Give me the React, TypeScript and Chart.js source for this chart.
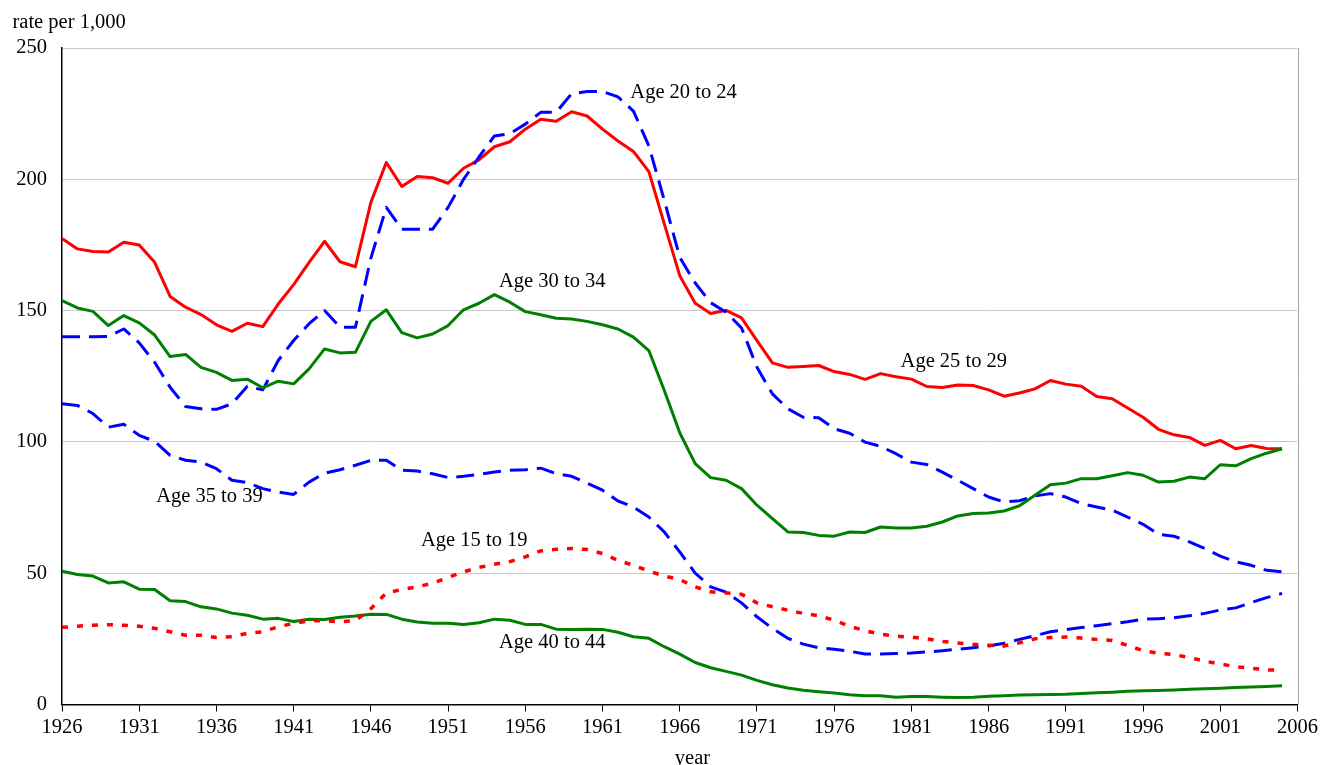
import React, { useEffect, useRef } from "react";
import { Chart, registerables } from "chart.js";

Chart.register(...registerables);

const FONT_FAMILY = '"Liberation Serif", "Times New Roman", serif';
const FONT_SIZE = 20.5;

const startYear = 1926;
const years: number[] = Array.from({ length: 80 }, (_, i) => startYear + i);

const age15to19 = [
  29.4, 29.8, 30.2, 30.4, 30.2, 29.8, 29, 27.7, 26.4, 26.4,
  25.5, 25.8, 27.1, 27.7, 29.6, 30.9, 31.9, 31.9, 31.5, 31.9,
  36.5, 42.5, 43.8, 44.8, 46.2, 48.4, 50.5, 52.2, 53.4, 54.4,
  56.2, 58.5, 59.1, 59.4, 59, 57.5, 54.9, 53, 50.8, 48.9,
  47.6, 44.8, 42.9, 42.5, 42, 38.7, 37.2, 35.9, 34.7, 33.8,
  32.1, 29.8, 28.1, 26.8, 26, 25.7, 25, 24, 23.4, 22.9,
  22.6, 22.3, 23.5, 25, 25.5, 25.7, 25.3, 24.8, 24.4, 22.5,
  20.5, 19.5, 19, 17.9, 16.5, 15.4, 14.4, 13.8, 13.2, 13,
];

const age20to24 = [
  140, 140, 140, 140.2, 143, 137.7, 130.3, 120.8, 113.5, 112.6,
  112.4, 114.5, 121.2, 119.8, 131, 138.6, 145, 150, 143.7, 143.7,
  170, 189.3, 181, 181, 181, 189.3, 200, 208.5, 216.5, 217.4,
  221, 225.5, 225.5, 232.6, 233.4, 233.4, 231.4, 226, 212.7, 192,
  170.3, 160.5, 153, 149.4, 143.4, 128.4, 118.3, 112.6, 109.4, 109.2,
  105, 103.3, 99.9, 98.3, 95.5, 92.3, 91.4, 88.5, 85.4, 82.2,
  79, 77.1, 77.6, 79.4, 80.3, 79, 76.5, 75.2, 74, 71.4,
  68.6, 64.8, 64.1, 61.9, 59.4, 56.5, 54.3, 53, 51.1, 50.5,
];

const age25to29 = [
  177.5, 173.5, 172.5, 172.3, 176, 175, 168.4, 155.4, 151.3, 148.5,
  144.6, 142.1, 145.2, 143.9, 152.5, 159.9, 168.4, 176.4, 168.6, 166.7,
  191.2, 206.4, 197.3, 201.1, 200.6, 198.5, 204.2, 207.4, 212.4, 214.3,
  219.1, 222.9, 222.1, 225.7, 224.1, 219.1, 214.6, 210.6, 202.9, 183,
  163.3, 152.8, 148.9, 150.1, 147.2, 138.6, 130.1, 128.4, 128.7, 129.1,
  126.8, 125.7, 123.8, 126, 124.8, 123.9, 121.1, 120.7, 121.7, 121.5,
  119.8, 117.4, 118.6, 120.2, 123.4, 122, 121.2, 117.3, 116.4, 112.9,
  109.4, 104.8, 102.7, 101.7, 98.7, 100.6, 97.4, 98.6, 97.5, 97.4,
];

const age30to34 = [
  153.8, 151, 149.7, 144.3, 148.1, 145.3, 140.7, 132.5, 133.3, 128.4,
  126.5, 123.4, 123.9, 120.6, 123.1, 122.1, 127.8, 135.4, 133.9, 134.1,
  145.9, 150.3, 141.6, 139.6, 141.1, 144.3, 150.3, 152.8, 156.1, 153.2,
  149.6, 148.4, 147.1, 146.8, 145.9, 144.6, 143, 139.9, 134.8, 119.6,
  103.5, 91.7, 86.4, 85.4, 82.2, 75.9, 70.8, 65.7, 65.5, 64.4,
  64.1, 65.7, 65.5, 67.6, 67.2, 67.2, 67.9, 69.5, 71.8, 72.7,
  72.9, 73.7, 75.7, 79.7, 83.7, 84.3, 86, 86, 87.1, 88.3,
  87.3, 84.7, 85, 86.6, 86, 91.3, 90.9, 93.6, 95.7, 97.4,
];

const age35to39 = [
  114.5, 113.9, 110.8, 105.6, 106.7, 102.5, 100.2, 94.9, 93, 92.3,
  89.8, 85.4, 84.5, 82.2, 80.9, 80, 84.7, 88.1, 89.4, 91.1,
  93, 93, 89.2, 88.9, 87.9, 86.4, 86.9, 87.6, 88.5, 89.2,
  89.4, 90, 87.9, 86.9, 84.3, 81.6, 77.5, 75.2, 71.4, 65.7,
  58.1, 50, 44.8, 42.8, 38.7, 33.4, 29, 25.2, 23, 21.6,
  21, 20.3, 19.2, 19.2, 19.4, 19.6, 20, 20.5, 21, 21.6,
  22.3, 23.3, 24.8, 26.2, 27.7, 28.5, 29.3, 30, 30.8, 31.5,
  32.5, 32.7, 33, 33.8, 34.7, 36, 36.8, 38.8, 40.7, 42.3,
];

const age40to44 = [
  50.8, 49.5, 48.9, 46.3, 46.7, 43.9, 43.8, 39.5, 39.2, 37.2,
  36.4, 34.8, 34, 32.5, 32.8, 31.6, 32.5, 32.4, 33.2, 33.7,
  34.4, 34.3, 32.5, 31.4, 30.9, 30.9, 30.5, 31.1, 32.5, 32.1,
  30.5, 30.5, 28.7, 28.6, 28.7, 28.6, 27.5, 25.8, 25.2, 22,
  19.2, 16, 14, 12.6, 11.2, 9.2, 7.5, 6.3, 5.4, 4.9,
  4.4, 3.7, 3.3, 3.3, 2.8, 3, 3, 2.8, 2.7, 2.8,
  3.1, 3.3, 3.6, 3.7, 3.8, 3.9, 4.2, 4.5, 4.7, 5,
  5.2, 5.3, 5.5, 5.8, 6, 6.2, 6.5, 6.7, 6.9, 7.1,
];

const xMin = 1926;
const xMax = 2006;
const xStep = 5;
const yMin = 0;
const yMax = 250;
const yStep = 50;

const yAxisTitle = "rate per 1,000";
const xAxisTitle = "year";

// Series label annotations (anchor in data units, text left-aligned)
const seriesLabels = [
  { text: "Age 20 to 24", year: 1962.8, value: 232.9 },
  { text: "Age 30 to 34", year: 1954.3, value: 161.1 },
  { text: "Age 25 to 29", year: 1980.3, value: 130.6 },
  { text: "Age 35 to 39", year: 1932.1, value: 79.2 },
  { text: "Age 15 to 19", year: 1949.25, value: 62.5 },
  { text: "Age 40 to 44", year: 1954.3, value: 23.5 },
];

const toPoints = (vals: number[]) => vals.map((v, i) => ({ x: years[i], y: v }));

const extrasPlugin = {
  id: "extras",
  beforeDatasetsDraw(chart: any) {
    const { ctx, chartArea } = chart;
    ctx.save();
    ctx.strokeStyle = "#a6a6a6";
    ctx.lineWidth = 1;
    ctx.beginPath();
    ctx.moveTo(Math.round(chartArea.right) + 0.5, chartArea.top);
    ctx.lineTo(Math.round(chartArea.right) + 0.5, chartArea.bottom);
    ctx.stroke();
    ctx.restore();
  },
  afterDraw(chart: any) {
    const { ctx, scales } = chart;
    ctx.save();
    ctx.font = `${FONT_SIZE}px ${FONT_FAMILY}`;
    ctx.fillStyle = "#000";
    ctx.textAlign = "left";
    ctx.textBaseline = "alphabetic";
    ctx.fillText(yAxisTitle, 12.5, 27.5);
    ctx.textAlign = "center";
    ctx.fillText(xAxisTitle, 692.5, 763.5);
    ctx.textAlign = "left";
    ctx.textBaseline = "middle";
    for (const l of seriesLabels) {
      ctx.fillText(l.text, scales.x.getPixelForValue(l.year), scales.y.getPixelForValue(l.value));
    }
    ctx.restore();
  },
};

export default function App() {
  const canvasRef = useRef<HTMLCanvasElement | null>(null);

  useEffect(() => {
    const canvas = canvasRef.current;
    if (!canvas) return;
    const common = { pointRadius: 0, pointHoverRadius: 0, tension: 0, fill: false, borderJoinStyle: "round" as const };
    const chart = new Chart(canvas, {
      type: "line",
      data: {
        datasets: [
          { ...common, label: "Age 15 to 19", data: toPoints(age15to19), borderColor: "#ff0000", borderWidth: 3.5, borderDash: [6, 9], borderCapStyle: "butt" },
          { ...common, label: "Age 40 to 44", data: toPoints(age40to44), borderColor: "#008000", borderWidth: 3 },
          { ...common, label: "Age 35 to 39", data: toPoints(age35to39), borderColor: "#0000ff", borderWidth: 3, borderDash: [18, 9] },
          { ...common, label: "Age 30 to 34", data: toPoints(age30to34), borderColor: "#008000", borderWidth: 3 },
          { ...common, label: "Age 20 to 24", data: toPoints(age20to24), borderColor: "#0000ff", borderWidth: 3, borderDash: [18, 9] },
          { ...common, label: "Age 25 to 29", data: toPoints(age25to29), borderColor: "#ff0000", borderWidth: 3 },
        ],
      },
      options: {
        responsive: false,
        animation: false,
        events: [],
        layout: { padding: { top: 48, right: 23, bottom: 0, left: 0 } },
        plugins: {
          legend: { display: false },
          tooltip: { enabled: false },
          title: { display: false },
        },
        scales: {
          x: {
            type: "linear",
            min: xMin,
            max: xMax,
            afterFit: (scale: any) => { scale.height = 60.5; },
            ticks: {
              stepSize: xStep,
              color: "#000",
              padding: 4,
              maxRotation: 0,
              autoSkip: false,
              font: { family: FONT_FAMILY, size: FONT_SIZE },
              callback: (v: any) => String(v),
            },
            grid: { drawOnChartArea: false, drawTicks: true, tickLength: 7, color: "#000", lineWidth: 1 },
            border: { display: true, color: "#000", width: 1.5 },
          },
          y: {
            type: "linear",
            min: yMin,
            max: yMax,
            afterFit: (scale: any) => { scale.width = 62; },
            ticks: {
              stepSize: yStep,
              color: "#000",
              padding: 15,
              font: { family: FONT_FAMILY, size: FONT_SIZE },
              callback: (v: any) => String(v),
            },
            grid: { color: "#c8c8c8", lineWidth: 1, drawTicks: false },
            border: { display: true, color: "#000", width: 1.5 },
          },
        },
      },
      plugins: [extrasPlugin],
    });
    return () => chart.destroy();
  }, []);

  return (
    <div style={{ position: "absolute", left: 0, top: 0, width: 1322, height: 765, background: "#fff" }}>
      <canvas ref={canvasRef} width={1322} height={765} style={{ display: "block", width: 1322, height: 765 }} />
    </div>
  );
}
